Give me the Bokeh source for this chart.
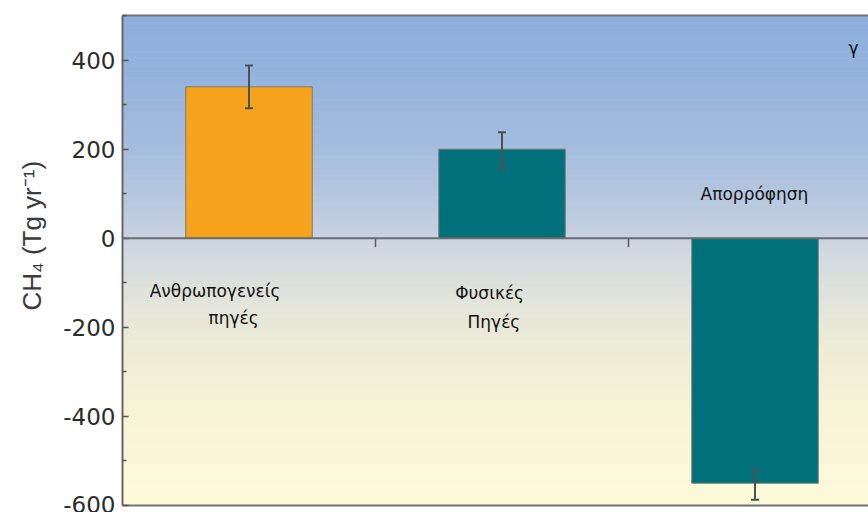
from bokeh.core.properties import value
from bokeh.embed import file_html
from bokeh.models import (ColumnDataSource, FixedTicker, LinearAxis, Range1d,
                          Span, TeeHead, Title, Whisker)
from bokeh.plotting import figure
from bokeh.resources import INLINE

# --- data -------------------------------------------------------------
categories = ["Ανθρωπογενείς πηγές", "Φυσικές Πηγές", "Απορρόφηση"]
values = [340, 200, -550]            # CH4 flux, Tg/yr
err_low = [292, 158, -587]
err_high = [388, 238, -519]
bar_colors = ["#F5A31C", "#00707A", "#00707A"]

y_ticks = [-600, -400, -200, 0, 200, 400]
y_tick_labels = ["-600", "-400", "-200", "0", "200", "400"]

# --- layout -----------------------------------------------------------
W, H = 868, 512
LEFT, TOP, BOTTOM = 122, 15, 7
SLOT_PX = 253                         # pixel width of one category slot
x_max = (W - LEFT) / SLOT_PX          # last slot runs past the right edge
Y_MIN, Y_MAX = -600, 500

p = figure(width=W, height=H,
           x_range=Range1d(0, x_max), y_range=Range1d(Y_MIN, Y_MAX),
           output_backend="svg", toolbar_location=None,
           min_border_left=LEFT, min_border_right=0,
           min_border_top=TOP, min_border_bottom=BOTTOM,
           background_fill_color="white", border_fill_color="white",
           outline_line_color=None)
p.grid.visible = False

# background: blue sky fading to pale yellow
grad_stops = [(500, "#8DAFDC"), (350, "#96B4DD"), (240, "#A0BADE"),
              (100, "#B5C6DE"), (15, "#C5D0DE"), (-20, "#CFD8E1"),
              (-140, "#E2E4DA"), (-250, "#EEECD6"), (-410, "#F8F4D6"),
              (-600, "#FDFAD8")]


def _hex(c):
    return tuple(int(c[i:i + 2], 16) for i in (1, 3, 5))


def grad_color(v):
    for (v0, c0), (v1, c1) in zip(grad_stops[:-1], grad_stops[1:]):
        if v1 <= v <= v0:
            t = (v0 - v) / (v0 - v1)
            a, b = _hex(c0), _hex(c1)
            return "#%02x%02x%02x" % tuple(round(a[k] + (b[k] - a[k]) * t) for k in range(3))
    return grad_stops[-1][1]


band = 5
bottoms = list(range(Y_MIN, Y_MAX, band))
band_colors = [grad_color(b + band / 2) for b in bottoms]
p.quad(left=0, right=3, bottom=bottoms, top=[b + band for b in bottoms],
       fill_color=band_colors, line_color=band_colors, line_width=1)

# bars
xs = [i + 0.5 for i in range(len(categories))]
src = ColumnDataSource(dict(x=xs, top=values, lo=err_low, hi=err_high,
                            color=bar_colors, cat=categories))
p.vbar(x="x", top="top", bottom=0, width=0.5, source=src,
       fill_color="color", line_color="#7a7a7a", line_width=1)

# zero line and category separators hanging from it
p.add_layout(Span(location=0, dimension="width", line_color="#6b6b6b", line_width=2))
seps = list(range(1, len(categories)))
p.segment(x0=seps, x1=seps, y0=[0] * len(seps), y1=[-20] * len(seps),
          line_color="#5a5a5a", line_width=1.5)

# error bars
err_col = "#505050"
p.add_layout(Whisker(source=src, base="x", upper="hi", lower="lo",
                     line_color=err_col, line_width=2, level="annotation",
                     upper_head=TeeHead(size=8, line_color=err_col, line_width=2),
                     lower_head=TeeHead(size=8, line_color=err_col, line_width=2)))

# category captions
cap_font = value("DejaVu Sans")
captions = ColumnDataSource(dict(
    x=[0.366, 0.439, 1.451, 1.468, 2.498, 2.889],
    y=[-119, -178, -124, -189, 99, 428],
    text=["Ανθρωπογενείς", "πηγές", "Φυσικές", "Πηγές", "Απορρόφηση", "γ"]))
p.text(x="x", y="y", text="text", source=captions, text_font=cap_font,
       text_font_size="17px", text_color="#111111",
       text_align="center", text_baseline="middle")

# y axis
yax = p.yaxis[0]
yax.ticker = FixedTicker(ticks=y_ticks,
                         minor_ticks=[(a + b) / 2 for a, b in zip(y_ticks[:-1], y_ticks[1:])] + [y_ticks[-1] + 100])
yax.major_label_overrides = {t: s for t, s in zip(y_ticks, y_tick_labels)}
yax.axis_line_color = "#6b6565"
yax.axis_line_width = 2
yax.major_tick_in = 6
yax.major_tick_out = 0
yax.minor_tick_in = 4
yax.minor_tick_out = 0
yax.major_tick_line_color = "#555555"
yax.major_tick_line_width = 1.5
yax.minor_tick_line_color = "#555555"
yax.minor_tick_line_width = 1.5
yax.major_label_standoff = 7
yax.major_label_text_font = "DejaVu Sans"
yax.major_label_text_font_size = "23px"
yax.major_label_text_color = "#2b2b2b"

# frame borders along top and bottom
xax = p.xaxis[0]
top_ax = LinearAxis()
p.add_layout(top_ax, "above")
for ax in (xax, top_ax):
    ax.ticker = FixedTicker(ticks=[])
    ax.major_tick_line_color = None
    ax.minor_tick_line_color = None
    ax.major_label_text_font_size = "0px"
    ax.major_label_standoff = 0
    ax.axis_line_color = "#707078"
    ax.axis_line_width = 2

# y axis title, set vertically in the left margin
p.add_layout(Title(text="CH₄ (Tg yr⁻¹)", align="left", offset=195,
                   standoff=28, text_font="Liberation Sans",
                   text_font_size="26px", text_font_style="normal",
                   text_color="#3a3a3a"), "left")

open("out.html", "w").write(file_html(p, INLINE))
